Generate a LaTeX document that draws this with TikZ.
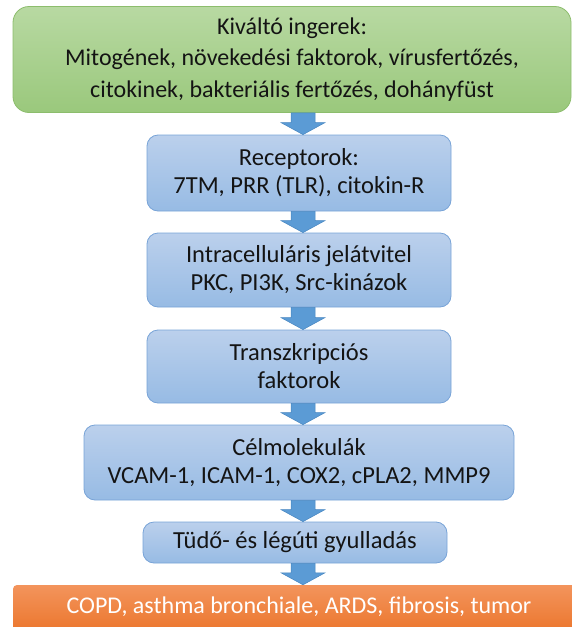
\documentclass[tikz,border=0pt]{standalone}
\usepackage{fontspec}
\setmainfont{Carlito}
\usetikzlibrary{calc,shadows}
\definecolor{gTop}{RGB}{184,217,162}
\definecolor{gBot}{RGB}{154,200,124}
\definecolor{gLine}{RGB}{140,189,108}
\definecolor{bTop}{RGB}{187,208,236}
\definecolor{bBot}{RGB}{151,187,228}
\definecolor{bLine}{RGB}{120,163,215}
\definecolor{aFill}{RGB}{91,155,213}
\definecolor{aLine}{RGB}{70,133,192}
\definecolor{oTop}{RGB}{243,148,92}
\definecolor{oBot}{RGB}{233,110,32}
\definecolor{txt}{RGB}{20,20,20}
\tikzset{
  greenbox/.style={draw=gLine, line width=0.8pt, rounded corners=16pt, top color=gTop, bottom color=gBot,
    align=center, font=\fontsize{24}{31.5}\selectfont, text=txt, inner sep=0pt},
  bluebox/.style={draw=bLine, line width=0.8pt, rounded corners=11pt, top color=bTop, bottom color=bBot,
    align=center, font=\fontsize{24.5}{28}\selectfont, text=txt, inner sep=0pt},
  orangebox/.style={draw=none, rounded corners=4pt, top color=oTop, bottom color=oBot,
    align=center, font=\fontsize{24}{28}\selectfont, text=white, inner sep=0pt},
  blockarrow/.style={fill=aFill, draw=aLine, line width=0.5pt, line join=miter},
}
\newcommand{\blockarr}[2]{%
  \path let \p1=(#1.south), \p2=(#2.north) in
    [blockarrow] (291pt,\y1) -- (315pt,\y1) -- (315pt,\y2+12pt) -- (325pt,\y2+12pt)
    -- (303pt,\y2) -- (281pt,\y2+12pt) -- (291pt,\y2+12pt) -- cycle;}
\begin{document}
\begin{tikzpicture}[x=1pt,y=-1pt]
\useasboundingbox (0,0) rectangle (572,627);
\clip (0,0) rectangle (572,627);
\node[greenbox, minimum width=558, minimum height=106] (g) at (292,59.5)
  {Kiváltó ingerek:\\Mitogének, növekedési faktorok, vírusfertőzés,\\citokinek, bakteriális fertőzés, dohányfüst};
\node[bluebox, minimum width=304, minimum height=76] (r) at (299,173)
  {Receptorok:\\7TM, PRR (TLR), citokin-R};
\node[bluebox, minimum width=304, minimum height=74] (i) at (299,270)
  {Intracelluláris jelátvitel\\PKC, PI3K, Src-kinázok};
\node[bluebox, minimum width=304, minimum height=73] (t) at (299,366.5)
  {Transzkripciós\\faktorok};
\node[bluebox, minimum width=430, minimum height=75] (c) at (299,462.5)
  {Célmolekulák\\VCAM-1, ICAM-1, COX2, cPLA2, MMP9};
\node[bluebox, minimum width=304, minimum height=41] (l) at (295,542.5)
  {Tüdő- és légúti gyulladás};
\node[orangebox, minimum width=572, minimum height=60, text depth=20pt] (o) at (299,615)
  {COPD, asthma bronchiale, ARDS, fibrosis, tumor};
\blockarr{g}{r}
\blockarr{r}{i}
\blockarr{i}{t}
\blockarr{t}{c}
\blockarr{c}{l}
\blockarr{l}{o}
\end{tikzpicture}
\end{document}
